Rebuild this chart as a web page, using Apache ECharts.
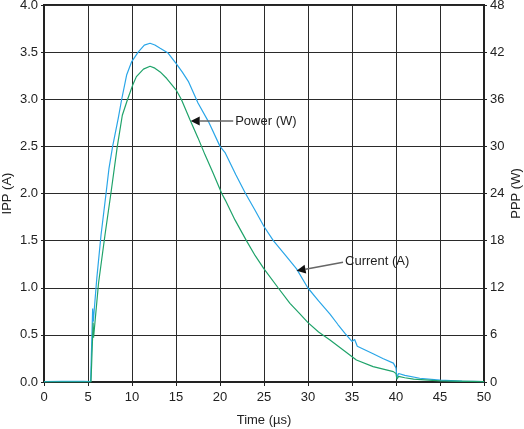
<!DOCTYPE html>
<html>
<head>
<meta charset="utf-8">
<script src="https://cdn.jsdelivr.net/npm/echarts@6/dist/echarts.min.js"></script>
<style>html,body{margin:0;padding:0;background:#fff}#c{width:524px;height:429px}</style>
</head>
<body>
<div id="c"></div>
<script>
// Blue curve (labelled "Current (A)"), left axis, amperes: [time µs, value]
var currentData = [
  [0,0.004],[2,0.008],[3,0.006],[4.5,0.008],[5.3,0.005],[5.53,0.78],[5.6,0.64],[6.0,1.1],
  [6.48,1.56],[7.05,2.0],[7.39,2.27],[7.8,2.5],[8.44,2.8],[8.83,3.0],[9.4,3.26],[9.97,3.4],
  [10.7,3.5],[11.4,3.575],[12.05,3.594],[12.6,3.575],[13.2,3.54],[14.1,3.49],[15.0,3.38],
  [15.7,3.29],[16.4,3.19],[17.5,2.96],[18.7,2.76],[20.0,2.5],[20.6,2.43],[21.8,2.2],
  [22.9,2.0],[24.0,1.82],[25.0,1.65],[26.06,1.5],[27.4,1.35],[28.7,1.2],[29.97,1.0],
  [31.2,0.86],[32.5,0.72],[33.4,0.61],[34.2,0.516],[35.0,0.43],[35.3,0.45],[35.6,0.38],
  [36.5,0.34],[37.4,0.3],[38.5,0.25],[39.7,0.2],[40.0,0.15],[40.1,0.05],[40.3,0.09],
  [41,0.07],[42.7,0.04],[45,0.02],[47.5,0.01],[50,0.005]
];
// Green curve (labelled "Power (W)"), right axis, watts: [time µs, value]
var powerData = [
  [0,0],[5.34,0],[5.58,7.56],[5.63,5.64],[6.2,12.6],[6.93,18.72],[7.6,24.0],[8.33,30.0],
  [8.9,33.96],[9.5,36.0],[10.08,37.8],[10.5,38.88],[11.3,39.84],[12.05,40.2],[12.6,39.96],
  [13.2,39.48],[13.95,38.64],[15.0,37.2],[15.6,36.0],[16.6,33.36],[17.5,31.08],[18.3,28.92],
  [19.2,26.64],[20.2,24.0],[20.6,23.16],[21.7,20.64],[23.0,18.0],[24.0,16.08],[25.0,14.4],
  [26.6,12.0],[27.95,10.02],[29.0,8.76],[30.0,7.56],[31.2,6.36],[32.5,5.35],[34.0,4.08],
  [35.5,2.8],[37.4,1.96],[39.7,1.32],[40.0,1.08],[40.1,0.36],[40.3,0.72],[41,0.54],
  [42,0.36],[45,0.14],[50,0.04]
];
var xTicks = [0,5,10,15,20,25,30,35,40,45,50];
var leftTicks = [0,0.5,1.0,1.5,2.0,2.5,3.0,3.5,4.0];
var rightTicks = [0,6,12,18,24,30,36,42,48];
// Annotations in data coordinates (left axis units): text anchor and arrow tip
var annotations = [
  {text:'Power (W)', from:[21.5,2.77], tip:[16.67,2.77]},
  {text:'Current (A)', from:[33.98,1.27], tip:[28.7,1.18]}
];

var chart = echarts.init(document.getElementById('c'), null, {renderer:'canvas'});
var font = 'Liberation Sans, Arial, Helvetica, sans-serif';
var axisLabelStyle = {color:'#222', fontSize:13, fontFamily:font};
var option = {
  animation:false,
  backgroundColor:'#fff',
  grid:{left:44, right:40, top:5, bottom:47, containLabel:false, outerBoundsMode:'none',
        show:true, borderColor:'#222', borderWidth:2},
  xAxis:{
    type:'value', min:xTicks[0], max:xTicks[xTicks.length-1], interval:5,
    name:'Time (µs)', nameLocation:'middle', nameGap:32, nameMoveOverlap:false,
    nameTextStyle:{color:'#222', fontSize:13, fontFamily:font},
    axisLine:{show:true, lineStyle:{color:'#222', width:2}},
    axisTick:{show:true, length:4, lineStyle:{color:'#222'}},
    axisLabel:Object.assign({margin:9}, axisLabelStyle),
    splitLine:{show:true, lineStyle:{color:'#2a2a2a', width:1}}
  },
  yAxis:[{
    type:'value', min:leftTicks[0], max:leftTicks[leftTicks.length-1], interval:0.5,
    name:'IPP (A)', nameLocation:'middle', nameGap:30, nameRotate:90, nameMoveOverlap:false,
    nameTextStyle:{color:'#222', fontSize:13, fontFamily:font},
    axisLine:{show:true, lineStyle:{color:'#222', width:2}},
    axisTick:{show:true, length:3, lineStyle:{color:'#222'}},
    axisLabel:Object.assign({margin:6, formatter:function(v){return v.toFixed(1);}}, axisLabelStyle),
    splitLine:{show:true, lineStyle:{color:'#2a2a2a', width:1}}
  },{
    type:'value', min:rightTicks[0], max:rightTicks[rightTicks.length-1], interval:6,
    position:'right',
    name:'PPP (W)', nameLocation:'middle', nameGap:26, nameRotate:90, nameMoveOverlap:false,
    nameTextStyle:{color:'#222', fontSize:13, fontFamily:font},
    axisLine:{show:true, lineStyle:{color:'#222', width:2}},
    axisTick:{show:true, length:3, lineStyle:{color:'#222'}},
    axisLabel:Object.assign({margin:6}, axisLabelStyle),
    splitLine:{show:false}
  }],
  series:[{
    name:'Current (A)', type:'line', yAxisIndex:0, data:currentData, showSymbol:false,
    lineStyle:{color:'#2aa6e8', width:1.2}, itemStyle:{color:'#2aa6e8'}, z:3
  },{
    name:'Power (W)', type:'line', yAxisIndex:1, data:powerData, showSymbol:false,
    lineStyle:{color:'#1fa36a', width:1.2}, itemStyle:{color:'#1fa36a'}, z:4
  }]
};
chart.setOption(option);

var g = [];
annotations.forEach(function(a){
  var p0 = chart.convertToPixel({xAxisIndex:0, yAxisIndex:0}, a.from);
  var p1 = chart.convertToPixel({xAxisIndex:0, yAxisIndex:0}, a.tip);
  var dx = p1[0]-p0[0], dy = p1[1]-p0[1], L = Math.sqrt(dx*dx+dy*dy);
  var ux = dx/L, uy = dy/L, hl = 9, hw = 4.5;
  var bx = p1[0]-ux*hl, by = p1[1]-uy*hl;
  g.push({type:'line', shape:{x1:p0[0], y1:p0[1], x2:bx, y2:by}, style:{stroke:'#666', lineWidth:1.5}, z:10});
  g.push({type:'polygon', shape:{points:[[p1[0],p1[1]],[bx-uy*hw,by+ux*hw],[bx+uy*hw,by-ux*hw]]}, style:{fill:'#111'}, z:10});
  g.push({type:'text', x:p0[0]+2, y:p0[1]-(a.text==='Current (A)'?1:0), style:{text:a.text, fill:'#222', font:'13px '+font, textVerticalAlign:'middle', textAlign:'left'}, z:10});
});
chart.setOption({graphic:g});
</script>
</body>
</html>
